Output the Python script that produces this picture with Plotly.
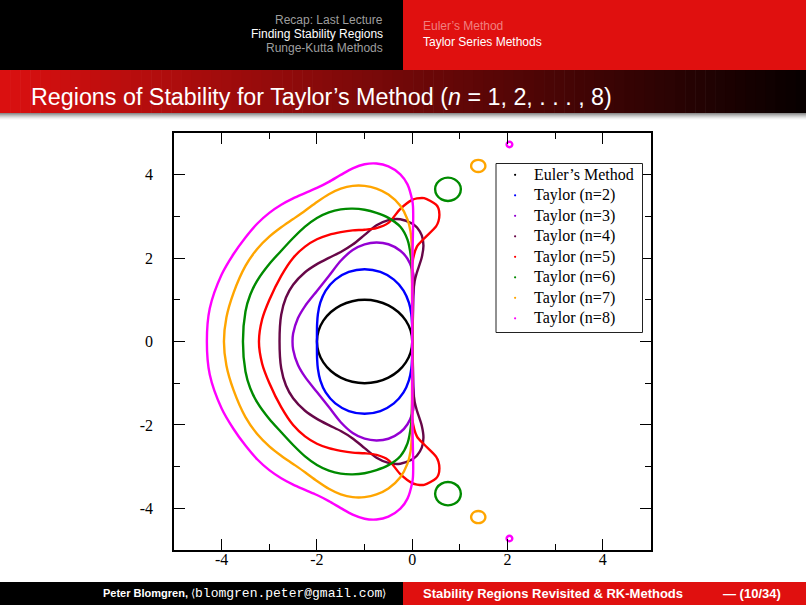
import plotly.graph_objects as go

W, H = 806, 605

# Boundaries |T_n(z)| = 1 of the Taylor-method stability regions, as
# (Re z, Im z) points. Each curve starts at the origin,
# runs over the upper half, round the left tip and back through the lower half.
euler = [(0, 0), (-0.034, 0.259), (-0.134, 0.5), (-0.293, 0.707), (-0.5, 0.866), (-0.741, 0.966),
         (-1, 1), (-1.259, 0.966), (-1.5, 0.866), (-1.707, 0.707), (-1.866, 0.5), (-1.966, 0.259),
         (-2, 0), (-1.966, -0.259), (-1.866, -0.5), (-1.707, -0.707), (-1.5, -0.866), (-1.259, -0.966),
         (-1, -1), (-0.741, -0.966), (-0.5, -0.866), (-0.293, -0.707), (-0.134, -0.5), (-0.034, -0.259), (0, 0)]

taylor2 = [(0, 0), (0, 0.199), (-0.003, 0.413), (-0.02, 0.655), (-0.07, 0.93), (-0.183, 1.221),
           (-0.385, 1.484), (-0.669, 1.667), (-1, 1.732), (-1.331, 1.667), (-1.615, 1.484), (-1.817, 1.221),
           (-1.93, 0.93), (-1.98, 0.655), (-1.997, 0.413), (-2, 0.199), (-2, 0), (-2, -0.199),
           (-1.997, -0.413), (-1.98, -0.655), (-1.93, -0.93), (-1.817, -1.221), (-1.615, -1.484),
           (-1.331, -1.667), (-1, -1.732), (-0.669, -1.667), (-0.385, -1.484), (-0.183, -1.221),
           (-0.07, -0.93), (-0.02, -0.655), (-0.003, -0.413), (0, -0.199), (0, 0)]

taylor3 = [(0, 0), (0.015, 0.6), (0.025, 1.0), (0.035, 1.5), (0, 1.732), (-0.1, 1.985), (-0.25, 2.177),
           (-0.5, 2.332), (-0.75, 2.373), (-1, 2.33), (-1.25, 2.193), (-1.5, 1.936), (-1.75, 1.572),
           (-2, 1.213), (-2.25, 0.849), (-2.4, 0.556), (-2.5, 0.19), (-2.513, 0), (-2.5, -0.19),
           (-2.4, -0.556), (-2.25, -0.849), (-2, -1.213), (-1.75, -1.572), (-1.5, -1.936), (-1.25, -2.193),
           (-1, -2.33), (-0.75, -2.373), (-0.5, -2.332), (-0.25, -2.177), (-0.1, -1.985), (0, -1.732),
           (0.035, -1.5), (0.025, -1.0), (0.015, -0.6), (0, 0)]

taylor4 = [(0, 0), (0.005, 1.0), (0.05, 1.446), (0.1, 1.664), (0.2, 2.02), (0.235, 2.3), (0.2, 2.544),
           (0.1, 2.731), (0.05, 2.786), (0, 2.828), (-0.25, 2.931), (-0.5, 2.912), (-0.75, 2.787),
           (-1, 2.557), (-1.25, 2.324), (-1.5, 2.147), (-1.75, 2.007), (-2, 1.855), (-2.25, 1.66),
           (-2.5, 1.36), (-2.65, 1.055), (-2.75, 0.64), (-2.785, 0), (-2.75, -0.64), (-2.65, -1.055),
           (-2.5, -1.36), (-2.25, -1.66), (-2, -1.855), (-1.75, -2.007), (-1.5, -2.147), (-1.25, -2.324),
           (-1, -2.557), (-0.75, -2.787), (-0.5, -2.912), (-0.25, -2.931), (0, -2.828), (0.05, -2.786),
           (0.1, -2.731), (0.2, -2.544), (0.235, -2.3), (0.2, -2.02), (0.1, -1.664), (0.05, -1.446),
           (0.005, -1.0), (0, 0)]

taylor5 = [(0, 0), (-0.003, 1.0), (-0.003, 1.6), (0, 1.857), (0.1, 2.28), (0.25, 2.47), (0.5, 2.76),
           (0.55, 2.883), (0.57, 3.04), (0.55, 3.192), (0.5, 3.283), (0.25, 3.438), (0.1, 3.431),
           (0, 3.396), (-0.25, 3.18), (-0.5, 2.844), (-0.75, 2.72), (-1, 2.681), (-1.25, 2.665),
           (-1.5, 2.623), (-1.75, 2.559), (-2, 2.452), (-2.25, 2.276), (-2.5, 2.004), (-2.75, 1.575),
           (-3, 0.995), (-3.15, 0.532), (-3.217, 0), (-3.15, -0.532), (-3, -0.995), (-2.75, -1.575),
           (-2.5, -2.004), (-2.25, -2.276), (-2, -2.452), (-1.75, -2.559), (-1.5, -2.623), (-1.25, -2.665),
           (-1, -2.681), (-0.75, -2.72), (-0.5, -2.844), (-0.25, -3.18), (0, -3.396), (0.1, -3.431),
           (0.25, -3.438), (0.5, -3.283), (0.55, -3.192), (0.57, -3.04), (0.55, -2.883), (0.5, -2.76),
           (0.25, -2.47), (0.1, -2.28), (0, -1.857), (-0.003, -1.6), (-0.003, -1.0), (0, 0)]

taylor6 = [(0, 0), (-0.003, 1.5), (-0.025, 2.0), (-0.1, 2.443), (-0.25, 2.75), (-0.5, 2.965),
           (-0.75, 3.085), (-1, 3.159), (-1.25, 3.186), (-1.5, 3.169), (-1.75, 3.098), (-2, 2.963),
           (-2.25, 2.755), (-2.5, 2.482), (-2.75, 2.175), (-3, 1.859), (-3.25, 1.466), (-3.4, 1.122),
           (-3.5, 0.72), (-3.553, 0), (-3.5, -0.72), (-3.4, -1.122), (-3.25, -1.466), (-3, -1.859),
           (-2.75, -2.175), (-2.5, -2.482), (-2.25, -2.755), (-2, -2.963), (-1.75, -3.098), (-1.5, -3.169),
           (-1.25, -3.186), (-1, -3.159), (-0.75, -3.085), (-0.5, -2.965), (-0.25, -2.75), (-0.1, -2.443),
           (-0.025, -2.0), (-0.003, -1.5), (0, 0)]

taylor7 = [(0, 0), (0, 1.76), (-0.01, 2.3), (-0.038, 2.646), (-0.1, 2.93), (-0.25, 3.253), (-0.5, 3.523),
           (-0.75, 3.666), (-1, 3.732), (-1.25, 3.732), (-1.5, 3.665), (-1.75, 3.531), (-2, 3.344),
           (-2.25, 3.135), (-2.5, 2.936), (-2.75, 2.739), (-3, 2.514), (-3.25, 2.225), (-3.5, 1.812),
           (-3.75, 1.166), (-3.9, 0.574), (-3.952, 0), (-3.9, -0.574), (-3.75, -1.166), (-3.5, -1.812),
           (-3.25, -2.225), (-3, -2.514), (-2.75, -2.739), (-2.5, -2.936), (-2.25, -3.135), (-2, -3.344),
           (-1.75, -3.531), (-1.5, -3.665), (-1.25, -3.732), (-1, -3.732), (-0.75, -3.666), (-0.5, -3.523),
           (-0.25, -3.253), (-0.1, -2.93), (-0.038, -2.646), (-0.01, -2.3), (0, -1.76), (0, 0)]

taylor8 = [(0, 0), (0.005, 2.0), (0.02, 3.0), (0.015, 3.25), (0, 3.38), (-0.1, 3.768), (-0.25, 4.01),
           (-0.5, 4.2), (-0.75, 4.268), (-1, 4.25), (-1.25, 4.153), (-1.5, 3.995), (-1.75, 3.828),
           (-2, 3.682), (-2.25, 3.558), (-2.5, 3.431), (-2.75, 3.279), (-3, 3.085), (-3.25, 2.83),
           (-3.5, 2.496), (-3.75, 2.098), (-4, 1.606), (-4.25, 0.79), (-4.31, 0), (-4.25, -0.79),
           (-4, -1.606), (-3.75, -2.098), (-3.5, -2.496), (-3.25, -2.83), (-3, -3.085), (-2.75, -3.279),
           (-2.5, -3.431), (-2.25, -3.558), (-2, -3.682), (-1.75, -3.828), (-1.5, -3.995), (-1.25, -4.153),
           (-1, -4.25), (-0.75, -4.268), (-0.5, -4.2), (-0.25, -4.01), (-0.1, -3.768), (0, -3.38),
           (0.015, -3.25), (0.02, -3.0), (0.005, -2.0), (0, 0)]

# detached islands of the n=6,7,8 regions (upper and lower copies)
island6_up = [(1.02, 3.65), (0.984, 3.79), (0.885, 3.892), (0.75, 3.93), (0.615, 3.892), (0.516, 3.79),
              (0.48, 3.65), (0.516, 3.51), (0.615, 3.408), (0.75, 3.37), (0.885, 3.408), (0.984, 3.51),
              (1.02, 3.65)]
island6_dn = [(1.02, -3.65), (0.984, -3.79), (0.885, -3.892), (0.75, -3.93), (0.615, -3.892), (0.516, -3.79),
              (0.48, -3.65), (0.516, -3.51), (0.615, -3.408), (0.75, -3.37), (0.885, -3.408), (0.984, -3.51),
              (1.02, -3.65)]
island7_up = [(1.535, 4.21), (1.515, 4.283), (1.46, 4.336), (1.385, 4.355), (1.31, 4.336), (1.255, 4.283),
              (1.235, 4.21), (1.255, 4.138), (1.31, 4.084), (1.385, 4.065), (1.46, 4.084), (1.515, 4.138),
              (1.535, 4.21)]
island7_dn = [(1.535, -4.21), (1.515, -4.283), (1.46, -4.336), (1.385, -4.355), (1.31, -4.336), (1.255, -4.283),
              (1.235, -4.21), (1.255, -4.138), (1.31, -4.084), (1.385, -4.065), (1.46, -4.084), (1.515, -4.138),
              (1.535, -4.21)]
island8_up = [(2.1, 4.725), (2.082, 4.772), (2.04, 4.791), (1.998, 4.772), (1.98, 4.725), (1.998, 4.678),
              (2.04, 4.659), (2.082, 4.678), (2.1, 4.725)]
island8_dn = [(2.1, -4.725), (2.082, -4.772), (2.04, -4.791), (1.998, -4.772), (1.98, -4.725), (1.998, -4.678),
              (2.04, -4.659), (2.082, -4.678), (2.1, -4.725)]

series_names = ["Euler’s Method", "Taylor (n=2)", "Taylor (n=3)", "Taylor (n=4)",
                "Taylor (n=5)", "Taylor (n=6)", "Taylor (n=7)", "Taylor (n=8)"]
series_colors = ["#000000", "#0000ff", "#9400d3", "#670748", "#ff0000", "#008b00", "#ffa500", "#ff00ff"]
series_curves = [[euler], [taylor2], [taylor3], [taylor4], [taylor5],
                 [taylor6, island6_up, island6_dn], [taylor7, island7_up, island7_dn],
                 [taylor8, island8_up, island8_dn]]

tick_vals = [-4, -2, 0, 2, 4]
tick_text = ["-4", "-2", "0", "2", "4"]
minor_vals = [-3, -1, 1, 3]

RED = "#e0100f"


def px(x):
    return x / W


def py(y):
    return 1 - y / H


def rect(x0, y0, x1, y1, color, layer="below"):
    return dict(type="rect", xref="paper", yref="paper", x0=px(x0), x1=px(x1), y0=py(y1), y1=py(y0),
                fillcolor=color, line=dict(width=0), layer=layer)


def text(x, y, s, size, color, anchor="left", family="Liberation Sans"):
    return dict(xref="paper", yref="paper", x=px(x), y=py(y), text=s, showarrow=False,
                xanchor=anchor, yanchor="middle", font=dict(family=family, size=size, color=color))


fig = go.Figure()

for name, color, segs in zip(series_names, series_colors, series_curves):
    for seg in segs:
        fig.add_trace(go.Scatter(
            x=[p[0] for p in seg], y=[p[1] for p in seg], mode="lines", name=name,
            line=dict(color=color, width=2.4, shape="spline", smoothing=0.8),
            showlegend=False, hoverinfo="skip"))

axis = dict(
    range=[-5, 5], showgrid=False, zeroline=False, showline=True, linecolor="black", linewidth=1.6,
    mirror="ticks", ticks="inside", ticklen=11, tickwidth=1.4, tickcolor="black",
    tickmode="array", tickvals=tick_vals, ticktext=tick_text,
    tickfont=dict(family="Liberation Serif", size=16, color="black"),
    minor=dict(tickmode="array", tickvals=minor_vals, ticks="inside", ticklen=6,
               tickwidth=1.4, tickcolor="black"),
)

shapes = []
annotations = []

# slide header
shapes.append(rect(0, 0, 403, 70, "#000000"))
shapes.append(rect(403, 0, W, 70, RED))
annotations += [
    text(385, 20, "Recap: Last Lecture", 12, "#9e9e9e", "right"),
    text(385, 34, "Finding Stability Regions", 12, "#ffffff", "right"),
    text(385, 48, "Runge-Kutta Methods", 12, "#9e9e9e", "right"),
    text(421, 26, "Euler’s Method", 12, "#f08080"),
    text(421, 42, "Taylor Series Methods", 12, "#ffffff"),
]

# title bar: red fading to black, with a soft grey shadow under it
n_strips = 80
for i in range(n_strips):
    f = i / (n_strips - 1)
    c = "rgb(%d,%d,%d)" % (round(218 * (1 - f) + 8 * f), round(16 * (1 - f)), round(16 * (1 - f)))
    x0 = W * i / n_strips
    shapes.append(rect(x0, 70, x0 + W / n_strips + 0.6, 113, c))
for i, g in enumerate([140, 165, 188, 208, 226, 240, 250]):
    shapes.append(rect(0, 113 + i, W, 114 + i, "rgb(%d,%d,%d)" % (g, g, g)))
annotations.append(text(29, 97, "Regions of Stability for Taylor’s Method (<i>n</i> = 1, 2, . . . , 8)",
                        23.3, "#ffffff"))

# footer
shapes.append(rect(0, 582, 403, H, "#000000"))
shapes.append(rect(403, 582, W, H, RED))
annotations += [
    text(388, 593.5, "<b>Peter Blomgren,</b> ⟨<span style=\"font-family:Liberation Mono;font-size:13px\">"
                     "blomgren.peter@gmail.com</span>⟩", 11, "#ffffff", "right"),
    text(421, 593.5, "<b>Stability Regions Revisited &amp; RK-Methods</b>", 13, "#ffffff"),
    text(721, 593.5, "<b>— (10/34)</b>", 13, "#ffffff"),
]

# legend box drawn by hand to match the original layout
shapes.append(dict(type="rect", xref="paper", yref="paper", x0=px(496), x1=px(642.5), y0=py(332.5),
                   y1=py(163.5), fillcolor="white", line=dict(color="#222222", width=1), layer="above"))
for i, (name, color) in enumerate(zip(series_names, series_colors)):
    yc = 174.8 + 20.5 * i
    shapes.append(dict(type="circle", xref="paper", yref="paper", x0=px(514), x1=px(516.2),
                       y0=py(yc + 1.1), y1=py(yc - 1.1), fillcolor=color, line=dict(width=0), layer="above"))
    annotations.append(text(531.5, yc, name, 16, "#000000", family="Liberation Serif"))

fig.update_layout(
    width=W, height=H, margin=dict(l=0, r=0, t=0, b=0),
    paper_bgcolor="white", plot_bgcolor="white", showlegend=False,
    xaxis=dict(axis, domain=[px(174), px(650.5)], ticklabelstandoff=-6),
    yaxis=dict(axis, domain=[py(550), py(133)], ticklabelstandoff=16),
    shapes=shapes, annotations=annotations,
)

# the page body has a default margin; drop it so the slide fills the window exactly
fig.write_html("out.html", config={"displayModeBar": False},
               post_script="document.body.style.margin='0';")
